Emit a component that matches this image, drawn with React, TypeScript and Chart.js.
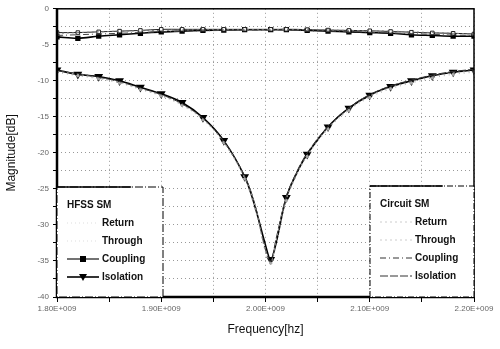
import React, { useEffect, useRef } from "react";
import { Chart, registerables } from "chart.js";

Chart.register(...registerables);

// Frequency points in GHz
const freqGHz = [1.8, 1.82, 1.84, 1.86, 1.88, 1.9, 1.92, 1.94, 1.96, 1.98, 1.99, 2.0, 2.005, 2.01, 2.02, 2.03, 2.04, 2.06, 2.08, 2.1, 2.12, 2.14, 2.16, 2.18, 2.2];
const markerOn = [1, 1, 1, 1, 1, 1, 1, 1, 1, 1, 0, 0, 1, 0, 1, 0, 1, 1, 1, 1, 1, 1, 1, 1, 1];

// HFSS SM
const hfssIsolation = [-8.5, -9.1, -9.4, -10.0, -10.9, -11.8, -13.0, -15.1, -18.3, -23.3, -27.5, -32.8, -34.8, -32.6, -26.2, -22.8, -20.2, -16.4, -13.8, -12.0, -10.8, -10.0, -9.3, -8.8, -8.5];
const hfssReturn = [-8.8, -9.3, -9.7, -10.3, -11.2, -12.1, -13.4, -15.4, -18.6, -23.6, -27.9, -33.3, -35.3, -33.0, -26.6, -23.1, -20.5, -16.7, -14.1, -12.3, -11.1, -10.3, -9.6, -9.1, -8.8];
const hfssCoupling = [-3.9, -4.1, -3.8, -3.6, -3.4, -3.2, -3.1, -3.0, -2.95, -2.9, -2.9, -2.9, -2.9, -2.9, -2.9, -2.95, -3.0, -3.1, -3.2, -3.3, -3.4, -3.6, -3.7, -3.8, -3.8];
const hfssThrough = [-3.3, -3.3, -3.2, -3.1, -3.0, -2.85, -2.85, -2.85, -2.85, -2.85, -2.85, -2.85, -2.85, -2.85, -2.85, -2.85, -2.9, -2.95, -3.0, -3.05, -3.15, -3.25, -3.35, -3.4, -3.5];

// Circuit SM
const circIsolation = [-8.6, -9.0, -9.5, -10.1, -11.0, -11.9, -13.2, -15.2, -18.4, -23.2, -27.2, -33.5, -35.0, -32.0, -26.0, -22.6, -20.0, -16.3, -13.7, -11.9, -10.7, -9.9, -9.2, -8.7, -8.4];
const circReturn = [-8.7, -9.1, -9.6, -10.2, -11.1, -12.0, -13.3, -15.3, -18.5, -23.4, -27.4, -33.8, -35.2, -32.3, -26.3, -22.9, -20.3, -16.5, -13.9, -12.1, -10.9, -10.1, -9.4, -8.9, -8.6];
const circCoupling = [-3.7, -3.6, -3.5, -3.4, -3.3, -3.2, -3.1, -3.05, -3.0, -2.95, -2.95, -2.95, -2.95, -2.95, -2.95, -3.0, -3.05, -3.1, -3.15, -3.25, -3.35, -3.45, -3.55, -3.65, -3.7];
const circThrough = [-3.4, -3.3, -3.2, -3.1, -3.05, -3.0, -2.95, -2.9, -2.9, -2.9, -2.9, -2.9, -2.9, -2.9, -2.9, -2.9, -2.9, -2.95, -3.0, -3.05, -3.1, -3.2, -3.3, -3.4, -3.5];

const xTickValues = [1.8, 1.9, 2.0, 2.1, 2.2];
const yTickValues = [0, -5, -10, -15, -20, -25, -30, -35, -40];

const toPts = (ys: number[]) => freqGHz.map((f, i) => ({ x: f * 1e9, y: ys[i] }));
const radii = (r: number) => markerOn.map((m) => (m ? r : 0));

const fmtHz = (v: number) => (v / 1e9).toFixed(2) + "E+009";

const FONT = "'Liberation Sans', Arial, sans-serif";

const framePlugin = {
  id: "frame",
  afterDraw(chart: any) {
    const { ctx, chartArea: a } = chart;
    ctx.save();
    ctx.strokeStyle = "#000";
    ctx.lineWidth = 1.5;
    ctx.strokeRect(a.left, a.top, a.right - a.left, a.bottom - a.top);
    ctx.lineWidth = 2.5;
    ctx.beginPath();
    ctx.moveTo(a.left, a.top);
    ctx.lineTo(a.left, a.bottom);
    ctx.lineTo(a.right, a.bottom);
    ctx.stroke();

    const drawBox = (x0: number, y0: number, w: number, h: number, title: string, circuit: boolean) => {
      ctx.fillStyle = "#fff";
      ctx.fillRect(x0, y0, w, h);
      ctx.strokeStyle = "#000";
      ctx.lineWidth = 1;
      ctx.setLineDash(circuit ? [6, 2, 1, 2] : [8, 2, 1, 2]);
      ctx.strokeRect(x0, y0, w, h);
      ctx.setLineDash([]);
      ctx.lineWidth = 1.5;
      ctx.beginPath();
      ctx.moveTo(x0, y0);
      ctx.lineTo(x0 + w * 0.7, y0);
      ctx.stroke();
      ctx.fillStyle = "#111";
      ctx.font = `bold 10px ${FONT}`;
      ctx.textBaseline = "middle";
      ctx.textAlign = "left";
      ctx.fillText(title, x0 + 10, y0 + 18);
      const labels = ["Return", "Through", "Coupling", "Isolation"];
      labels.forEach((t, i) => {
        const yy = y0 + 36 + i * 18;
        ctx.fillStyle = "#111";
        ctx.fillText(t, x0 + 45, yy);
        const lx0 = x0 + 10, lx1 = x0 + 42;
        if (circuit) {
          ctx.strokeStyle = i < 2 ? "#ccc" : "#333";
          ctx.lineWidth = 1;
          ctx.setLineDash(i === 2 ? [6, 3, 1, 3] : i === 3 ? [8, 2] : [2, 3]);
          ctx.beginPath();
          ctx.moveTo(lx0, yy);
          ctx.lineTo(lx1, yy);
          ctx.stroke();
          ctx.setLineDash([]);
        } else {
          if (i >= 2) {
            ctx.strokeStyle = "#000";
            ctx.lineWidth = i === 3 ? 1.6 : 1.1;
            ctx.beginPath();
            ctx.moveTo(lx0, yy);
            ctx.lineTo(lx1, yy);
            ctx.stroke();
            const cx = (lx0 + lx1) / 2;
            ctx.fillStyle = "#000";
            if (i === 2) {
              ctx.fillRect(cx - 3, yy - 3, 6, 6);
            } else {
              ctx.beginPath();
              ctx.moveTo(cx - 4, yy - 3);
              ctx.lineTo(cx + 4, yy - 3);
              ctx.lineTo(cx, yy + 4);
              ctx.closePath();
              ctx.fill();
            }
          } else {
            ctx.strokeStyle = "#ddd";
            ctx.lineWidth = 1;
            ctx.setLineDash([1, 3]);
            ctx.beginPath();
            ctx.moveTo(lx0, yy);
            ctx.lineTo(lx1, yy);
            ctx.stroke();
            ctx.setLineDash([]);
          }
        }
      });
    };
    drawBox(a.left, a.bottom - 110, 106, 110, "HFSS SM", false);
    drawBox(a.right - 104, a.bottom - 111, 104, 111, "Circuit SM", true);
    ctx.restore();
  },
};

export default function App() {
  const ref = useRef<HTMLCanvasElement | null>(null);

  useEffect(() => {
    if (!ref.current) return;
    const chart = new Chart(ref.current, {
      type: "line",
      data: {
        datasets: [
          {
            label: "Circuit Return",
            data: toPts(circReturn),
            borderColor: "#999",
            borderWidth: 1,
            borderDash: [2, 3],
            pointRadius: 0,
            tension: 0.35,
          },
          {
            label: "Circuit Through",
            data: toPts(circThrough),
            borderColor: "#777",
            borderWidth: 1,
            borderDash: [2, 3],
            pointRadius: 0,
            tension: 0.35,
          },
          {
            label: "Circuit Coupling",
            data: toPts(circCoupling),
            borderColor: "#444",
            borderWidth: 1,
            borderDash: [6, 3, 1, 3],
            pointRadius: 0,
            tension: 0.35,
          },
          {
            label: "Circuit Isolation",
            data: toPts(circIsolation),
            borderColor: "#333",
            borderWidth: 1,
            borderDash: [8, 2],
            pointRadius: 0,
            tension: 0.35,
          },
          {
            label: "HFSS Return",
            data: toPts(hfssReturn),
            borderColor: "#aaa",
            borderWidth: 1,
            borderDash: [1, 4],
            pointRadius: radii(1.2),
            pointStyle: "circle",
            pointBackgroundColor: "#aaa",
            pointBorderColor: "#aaa",
            tension: 0.35,
          },
          {
            label: "HFSS Through",
            data: toPts(hfssThrough),
            borderColor: "#222",
            borderWidth: 1,
            pointRadius: radii(2.5),
            pointStyle: "rect",
            pointBackgroundColor: "#fff",
            pointBorderColor: "#222",
            pointBorderWidth: 1,
            tension: 0.35,
          },
          {
            label: "HFSS Coupling",
            data: toPts(hfssCoupling),
            borderColor: "#000",
            borderWidth: 1.6,
            pointRadius: radii(2.6),
            pointStyle: "rect",
            pointBackgroundColor: "#000",
            pointBorderColor: "#000",
            tension: 0.35,
          },
          {
            label: "HFSS Isolation",
            data: toPts(hfssIsolation),
            borderColor: "#000",
            borderWidth: 1.6,
            pointRadius: radii(3.5),
            pointStyle: "triangle",
            rotation: 180,
            pointBackgroundColor: "#000",
            pointBorderColor: "#000",
            tension: 0.35,
          },
        ] as any,
      },
      options: {
        animation: false,
        responsive: false,
        maintainAspectRatio: false,
        layout: { padding: { left: 0, right: 26, top: 8, bottom: 12 } },
        plugins: {
          legend: { display: false },
          tooltip: { enabled: false },
        },
        scales: {
          x: {
            type: "linear",
            min: 1.8e9,
            max: 2.2e9,
            afterBuildTicks: (s: any) => {
              const t = [];
              for (let i = 0; i <= 8; i++) t.push({ value: 1.8e9 + i * 0.05e9 });
              s.ticks = t;
            },
            afterFit: (s: any) => {
              s.height = 40;
            },
            ticks: {
              autoSkip: false,
              maxRotation: 0,
              color: "#666",
              font: { family: FONT, size: 8 },
              padding: 2,
              callback: (v: any) => {
                const g = Math.round(Number(v) / 1e7) / 100;
                return xTickValues.some((t) => Math.abs(t - g) < 1e-6) ? fmtHz(Number(v)) : "";
              },
            },
            grid: {
              color: "#999",
              lineWidth: 1,
              tickBorderDash: [],
              tickColor: "#000",
              tickLength: 5,
              drawTicks: true,
            },
            border: { display: false, dash: [1, 3] },
            title: {
              display: true,
              text: "Frequency[hz]",
              color: "#111",
              font: { family: FONT, size: 12 },
              padding: { top: 6, bottom: 0 },
            },
          },
          y: {
            type: "linear",
            min: -40,
            max: 0,
            afterBuildTicks: (s: any) => {
              const t = [];
              for (let i = 0; i <= 16; i++) t.push({ value: -40 + i * 2.5 });
              s.ticks = t;
            },
            afterFit: (s: any) => {
              s.width = 57;
            },
            ticks: {
              autoSkip: false,
              color: "#666",
              font: { family: FONT, size: 8 },
              padding: 4,
              callback: (v: any) => {
                const n = Number(v);
                return yTickValues.includes(n) ? String(n) : "";
              },
            },
            grid: {
              color: "#999",
              lineWidth: 1,
              tickBorderDash: [],
              tickColor: "#000",
              tickLength: 4,
            },
            border: { display: false, dash: [1, 3] },
            title: {
              display: true,
              text: "Magnitude[dB]",
              color: "#111",
              font: { family: FONT, size: 12 },
              padding: { top: 4, bottom: 2 },
            },
          },
        },
      } as any,
      plugins: [framePlugin],
    });
    return () => chart.destroy();
  }, []);

  return (
    <div style={{ position: "fixed", left: 0, top: 0, width: 500, height: 349, background: "#fff" }}>
      <canvas ref={ref} width={500} height={349} style={{ width: 500, height: 349 }} />
    </div>
  );
}
